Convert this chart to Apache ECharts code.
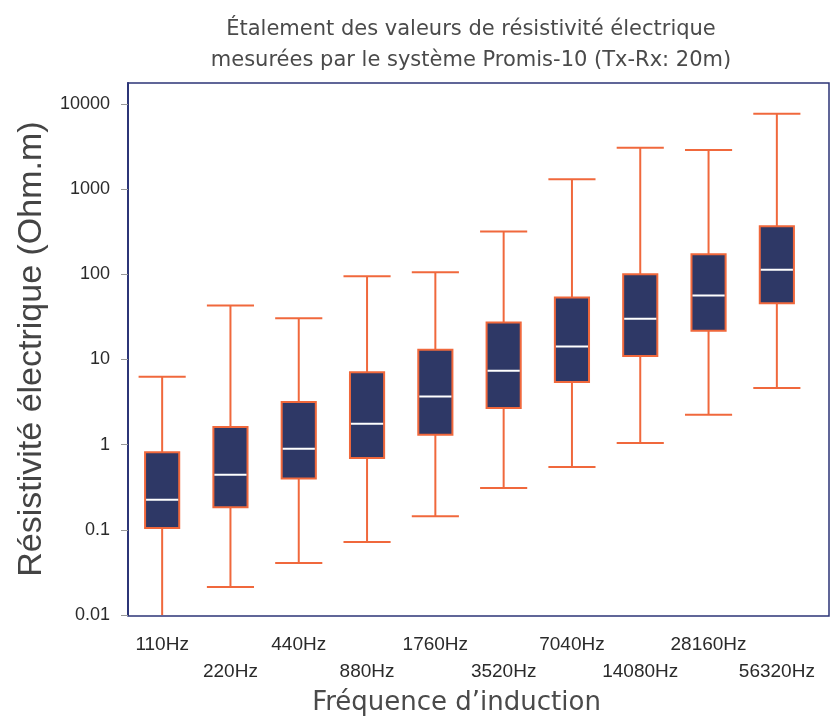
<!DOCTYPE html>
<html>
<head>
<meta charset="utf-8">
<script src="https://cdn.jsdelivr.net/npm/echarts@6/dist/echarts.min.js"></script>
<style>html,body{margin:0;padding:0;background:#fff}#c{width:830px;height:721px}</style>
</head>
<body>
<div id="c"></div>
<script>
const categories = ['110Hz','220Hz','440Hz','880Hz','1760Hz','3520Hz','7040Hz','14080Hz','28160Hz','56320Hz'];
const whiskerLow  = [0.008, 0.0213, 0.041, 0.0723, 0.145, 0.31, 0.548, 1.05, 2.25, 4.62];
const quartile1   = [0.105, 0.185, 0.40, 0.698, 1.31, 2.69, 5.43, 11.0, 21.7, 45.8];
const medians     = [0.226, 0.445, 0.898, 1.76, 3.69, 7.37, 14.2, 30.0, 56.4, 113];
const quartile3   = [0.815, 1.61, 3.17, 7.1, 13.0, 27.2, 53.5, 100, 172, 366];
const whiskerHigh = [6.27, 43.1, 30.6, 95, 106, 318, 1303, 3067, 2873, 7680];

const NAVY = '#2e3866';
const ORANGE = '#f0683c';
const FRAME = '#2c3577';

const boxData = categories.map((c, i) => [i, whiskerLow[i], quartile1[i], medians[i], quartile3[i], whiskerHigh[i]]);

const chart = echarts.init(document.getElementById('c'), null, {renderer: 'canvas'});

function renderItem(params, api) {
  const idx = api.value(0);
  const lo = api.coord([idx, api.value(1)]);
  const q1 = api.coord([idx, api.value(2)]);
  const md = api.coord([idx, api.value(3)]);
  const q3 = api.coord([idx, api.value(4)]);
  const hi = api.coord([idx, api.value(5)]);
  const band = params.coordSys.width / categories.length;
  const bw = band * 0.5;
  const cw = band * 0.69;
  const x = lo[0];
  const lineStyle = {stroke: ORANGE, lineWidth: 2};
  return {
    type: 'group',
    children: [
      {type: 'line', shape: {x1: x, y1: lo[1], x2: x, y2: q1[1]}, style: lineStyle},
      {type: 'line', shape: {x1: x, y1: q3[1], x2: x, y2: hi[1]}, style: lineStyle},
      {type: 'line', shape: {x1: x - cw / 2, y1: lo[1], x2: x + cw / 2, y2: lo[1]}, style: lineStyle},
      {type: 'line', shape: {x1: x - cw / 2, y1: hi[1], x2: x + cw / 2, y2: hi[1]}, style: lineStyle},
      {type: 'rect', shape: {x: x - bw / 2, y: q3[1], width: bw, height: q1[1] - q3[1]},
        style: {fill: NAVY, stroke: ORANGE, lineWidth: 2}},
      {type: 'line', shape: {x1: x - bw / 2 + 1, y1: md[1], x2: x + bw / 2 - 1, y2: md[1]},
        style: {stroke: '#ffffff', lineWidth: 2}}
    ]
  };
}

chart.setOption({
  animation: false,
  backgroundColor: '#ffffff',
  title: {
    text: 'Étalement des valeurs de résistivité électrique\nmesurées par le système Promis-10 (Tx-Rx: 20m)',
    left: 466,
    textAlign: 'center',
    top: 9,
    textStyle: {fontFamily: 'DejaVu Sans', fontSize: 21, fontWeight: 'normal', color: '#4a4a4a', lineHeight: 31}
  },
  grid: [
    {left: 128, right: 19, top: 83, bottom: 105},
    {left: 128, right: 1, top: 83, bottom: 105, show: true, borderColor: FRAME, borderWidth: 1.5, backgroundColor: 'transparent'}
  ],
  xAxis: [
    {
      type: 'category',
      gridIndex: 0,
      data: categories,
      boundaryGap: true,
      axisLine: {show: false},
      axisTick: {show: false},
      axisLabel: {
        interval: 0,
        margin: 16,
        fontFamily: 'Liberation Sans',
        fontSize: 19,
        color: '#2a2a2a',
        lineHeight: 27,
        formatter: (v, i) => (i % 2 === 0 ? v + '\n ' : ' \n' + v)
      },
      name: 'Fréquence d’induction',
      nameLocation: 'middle',
      nameGap: 73,
      nameTextStyle: {fontFamily: 'DejaVu Sans', fontSize: 26, fontWeight: 'normal', color: '#4a4a4a', padding: [0, 26, 0, 0]}
    },
    {type: 'value', gridIndex: 1, show: false}
  ],
  yAxis: [
    {
      type: 'log',
      gridIndex: 0,
      logBase: 10,
      min: 0.01,
      max: 17600,
      splitNumber: 5,
      axisLine: {show: true, lineStyle: {color: FRAME, width: 2}},
      axisTick: {show: true, length: 7, lineStyle: {color: '#999'}},
      splitLine: {show: false},
      axisLabel: {
        showMaxLabel: false,
        margin: 18,
        fontFamily: 'Liberation Sans',
        fontSize: 18,
        color: '#2a2a2a',
        formatter: v => String(+(+v).toPrecision(6))
      },
      name: 'Résistivité électrique (Ohm.m)',
      nameLocation: 'middle',
      nameGap: 76,
      nameTextStyle: {fontFamily: 'Liberation Sans', fontSize: 34, color: '#444444'}
    },
    {type: 'value', gridIndex: 1, show: false}
  ],
  series: [{
    type: 'custom',
    xAxisIndex: 0,
    yAxisIndex: 0,
    clip: true,
    renderItem: renderItem,
    encode: {x: 0, y: [1, 2, 3, 4, 5]},
    data: boxData
  }]
});
</script>
</body>
</html>
